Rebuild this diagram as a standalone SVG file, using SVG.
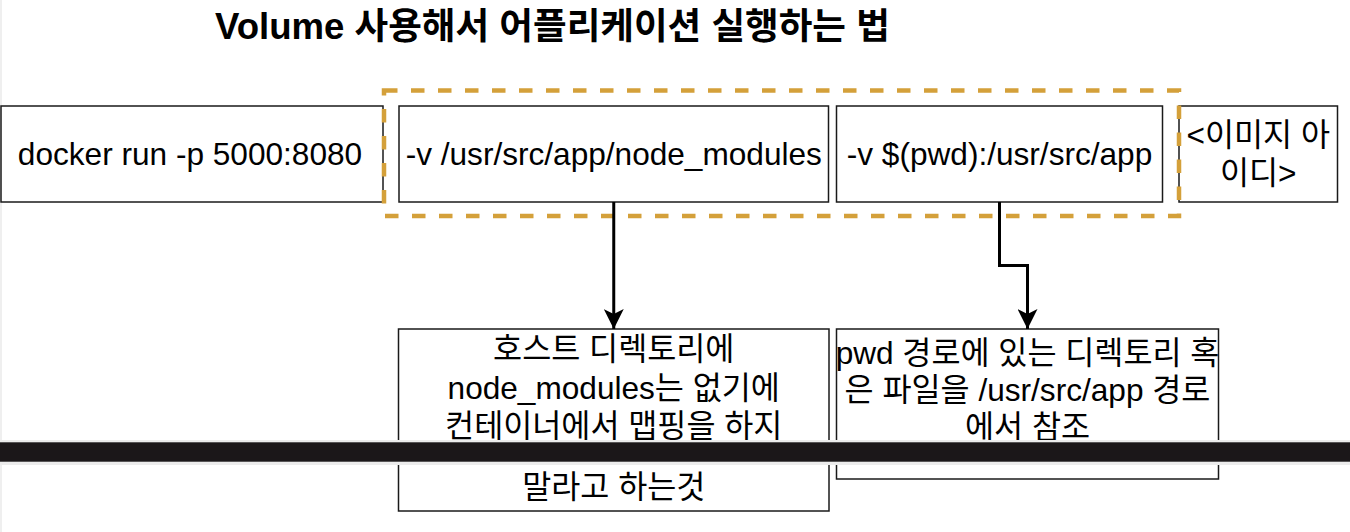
<svg xmlns="http://www.w3.org/2000/svg" width="1350" height="532" viewBox="0 0 1350 532">
  <style>
    .box { fill: #ffffff; stroke: #1a1a1a; stroke-width: 1.5; }
    .lbl { font-family: "Liberation Sans", "Noto Sans CJK KR", sans-serif; font-size: 31.6px; fill: #000000; text-anchor: middle; }
    .title { font-family: "Liberation Sans", "Noto Sans CJK KR", sans-serif; font-size: 36.6px; font-weight: bold; fill: #000000; }
    .edge { fill: none; stroke: #000000; stroke-width: 3; }
    .group { fill: none; stroke: #d4a03a; stroke-width: 4.5; stroke-dasharray: 13.5 13.5; }
  </style>
  <defs>
    <marker id="arrow" viewBox="0 0 20 20" refX="20" refY="10" markerWidth="20" markerHeight="20" markerUnits="userSpaceOnUse" orient="auto">
      <path d="M0,0 L20,10 L0,20 L5,10 Z" fill="#000000"/>
    </marker>
  </defs>
  <rect x="0" y="0" width="1350" height="532" fill="#ffffff"/>
  <rect x="0" y="0" width="2" height="532" fill="#efefef"/>

  <text id="title" class="title" x="215" y="39">Volume 사용해서 어플리케이션 실행하는 법</text>

  <g id="node-docker-run">
    <rect class="box" x="1" y="106" width="382" height="96"/>
    <text class="lbl" x="190" y="165">docker run -p 5000:8080</text>
  </g>
  <g id="node-volume-node-modules">
    <rect class="box" x="399" y="106" width="429.5" height="96"/>
    <text class="lbl" x="613.75" y="165">-v /usr/src/app/node_modules</text>
  </g>
  <g id="node-volume-pwd">
    <rect class="box" x="836.5" y="106" width="326" height="96"/>
    <text class="lbl" x="999.5" y="165">-v $(pwd):/usr/src/app</text>
  </g>
  <g id="node-image-id">
    <rect class="box" x="1179" y="106" width="158.5" height="96"/>
    <text class="lbl" x="1258.25" y="146">&lt;이미지 아</text>
    <text class="lbl" x="1258.25" y="184">이디&gt;</text>
  </g>
  <g id="group-volumes">
    <rect class="group" x="384" y="90.5" width="795" height="125.5"/>
  </g>
  <g id="node-note-node-modules">
    <rect class="box" x="398.5" y="329" width="430.5" height="182"/>
    <text class="lbl" x="613.75" y="360">호스트 디렉토리에</text>
    <text class="lbl" x="613.75" y="399">node_modules는 없기에</text>
    <text class="lbl" x="613.75" y="437">컨테이너에서 맵핑을 하지</text>
    <text class="lbl" x="613.75" y="498">말라고 하는것</text>
  </g>
  <g id="node-note-pwd">
    <rect class="box" x="836.5" y="329" width="382" height="150"/>
    <text class="lbl" x="1027.5" y="364">pwd 경로에 있는 디렉토리 혹</text>
    <text class="lbl" x="1027.5" y="401">은 파일을 /usr/src/app 경로</text>
    <text class="lbl" x="1027.5" y="438">에서 참조</text>
  </g>

  <g id="connectors">
    <path class="edge" d="M613.75,202 L613.75,329" marker-end="url(#arrow)"/>
    <path class="edge" d="M999.5,202 L999.5,265.5 L1027.5,265.5 L1027.5,329" marker-end="url(#arrow)"/>
  </g>

  <g id="overlay-bar">
    <rect x="0" y="440" width="1350" height="25" fill="#ececec"/>
    <rect x="0" y="442.3" width="1350" height="19.4" fill="#1b1719"/>
  </g>
</svg>
